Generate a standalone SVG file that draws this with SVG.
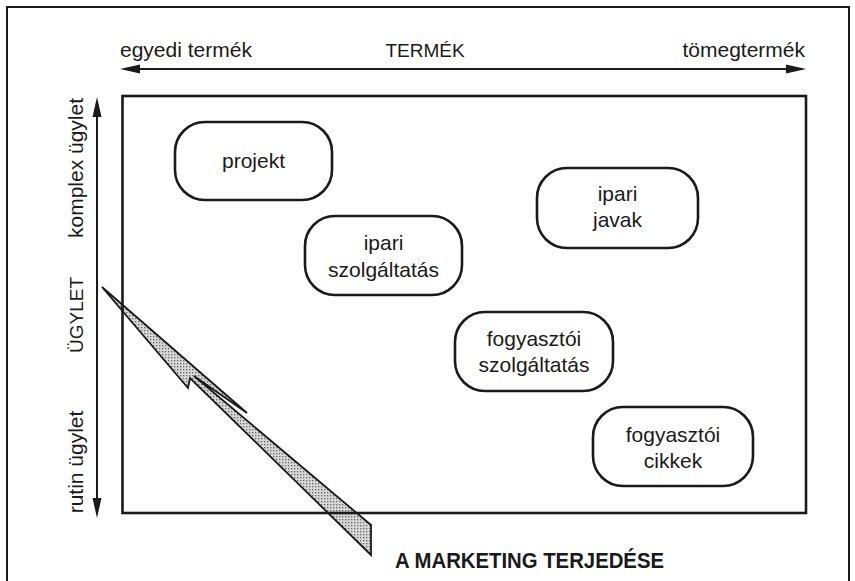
<svg xmlns="http://www.w3.org/2000/svg" width="855" height="581" viewBox="0 0 855 581">
<style>
text{font-family:"Liberation Sans",Arial,sans-serif;font-size:21px;fill:#1a1a1a}
.node rect{fill:#fff;stroke:#1a1a1a;stroke-width:2.6}
.ax{stroke:#1a1a1a;stroke-width:2;fill:none}
.head{fill:#1a1a1a}
.mid{text-anchor:middle}
.caps{font-size:19px}
</style>
<defs>
<pattern id="dots" width="3" height="3" patternUnits="userSpaceOnUse">
<rect width="3" height="3" fill="#d8d8d8"/>
<rect x="0" y="0" width="1.3" height="1.3" fill="#666"/>
</pattern>
</defs>
<rect width="855" height="581" fill="#fff"/>
<path d="M7,581 V7 H849 V581" fill="none" stroke="#1a1a1a" stroke-width="2"/>

<g id="axes">
<line class="ax" x1="136" y1="69" x2="790" y2="69"/>
<polygon class="head" points="120,69 140,64.5 140,73.5"/>
<polygon class="head" points="806,69 786,64.5 786,73.5"/>
<line class="ax" x1="97" y1="112" x2="97" y2="503"/>
<polygon class="head" points="97,97 92.5,117 101.5,117"/>
<polygon class="head" points="97,518 92.5,498 101.5,498"/>
<text x="120" y="57">egyedi termék</text>
<text x="425" y="57" class="mid caps">TERMÉK</text>
<text x="805" y="57" text-anchor="end">tömegtermék</text>
<text transform="translate(83,168) rotate(-90)" class="mid">komplex ügylet</text>
<text transform="translate(83,315) rotate(-90)" class="mid caps">ÜGYLET</text>
<text transform="translate(83,462) rotate(-90)" class="mid">rutin ügylet</text>
</g>

<g id="spread">
<polygon points="102,287 247,413 194,376 371,525 371,555 190,378 188,388" fill="url(#dots)" stroke="#1a1a1a" stroke-width="1.8" stroke-linejoin="miter"/>
<text x="395" y="568" font-weight="bold" textLength="269" lengthAdjust="spacingAndGlyphs" style="font-size:22px">A MARKETING TERJEDÉSE</text>
</g>

<rect id="field" x="122.5" y="96" width="683.5" height="417" fill="none" stroke="#1a1a1a" stroke-width="2.6"/>

<g id="projekt" class="node">
<rect x="175" y="122" width="157" height="78" rx="30"/>
<text x="253.5" y="168" class="mid">projekt</text>
</g>
<g id="ipari-szolgaltatas" class="node">
<rect x="305" y="216" width="157" height="79" rx="30"/>
<text x="383.5" y="250" class="mid">ipari</text>
<text x="383.5" y="277" class="mid">szolgáltatás</text>
</g>
<g id="ipari-javak" class="node">
<rect x="537" y="168" width="161" height="80" rx="30"/>
<text x="617.5" y="201" class="mid">ipari</text>
<text x="617.5" y="227" class="mid">javak</text>
</g>
<g id="fogyasztoi-szolgaltatas" class="node">
<rect x="455" y="312" width="158" height="79" rx="30"/>
<text x="534" y="346" class="mid">fogyasztói</text>
<text x="534" y="372" class="mid">szolgáltatás</text>
</g>
<g id="fogyasztoi-cikkek" class="node">
<rect x="593" y="407" width="160" height="79" rx="30"/>
<text x="673" y="442" class="mid">fogyasztói</text>
<text x="673" y="468" class="mid">cikkek</text>
</g>
</svg>
